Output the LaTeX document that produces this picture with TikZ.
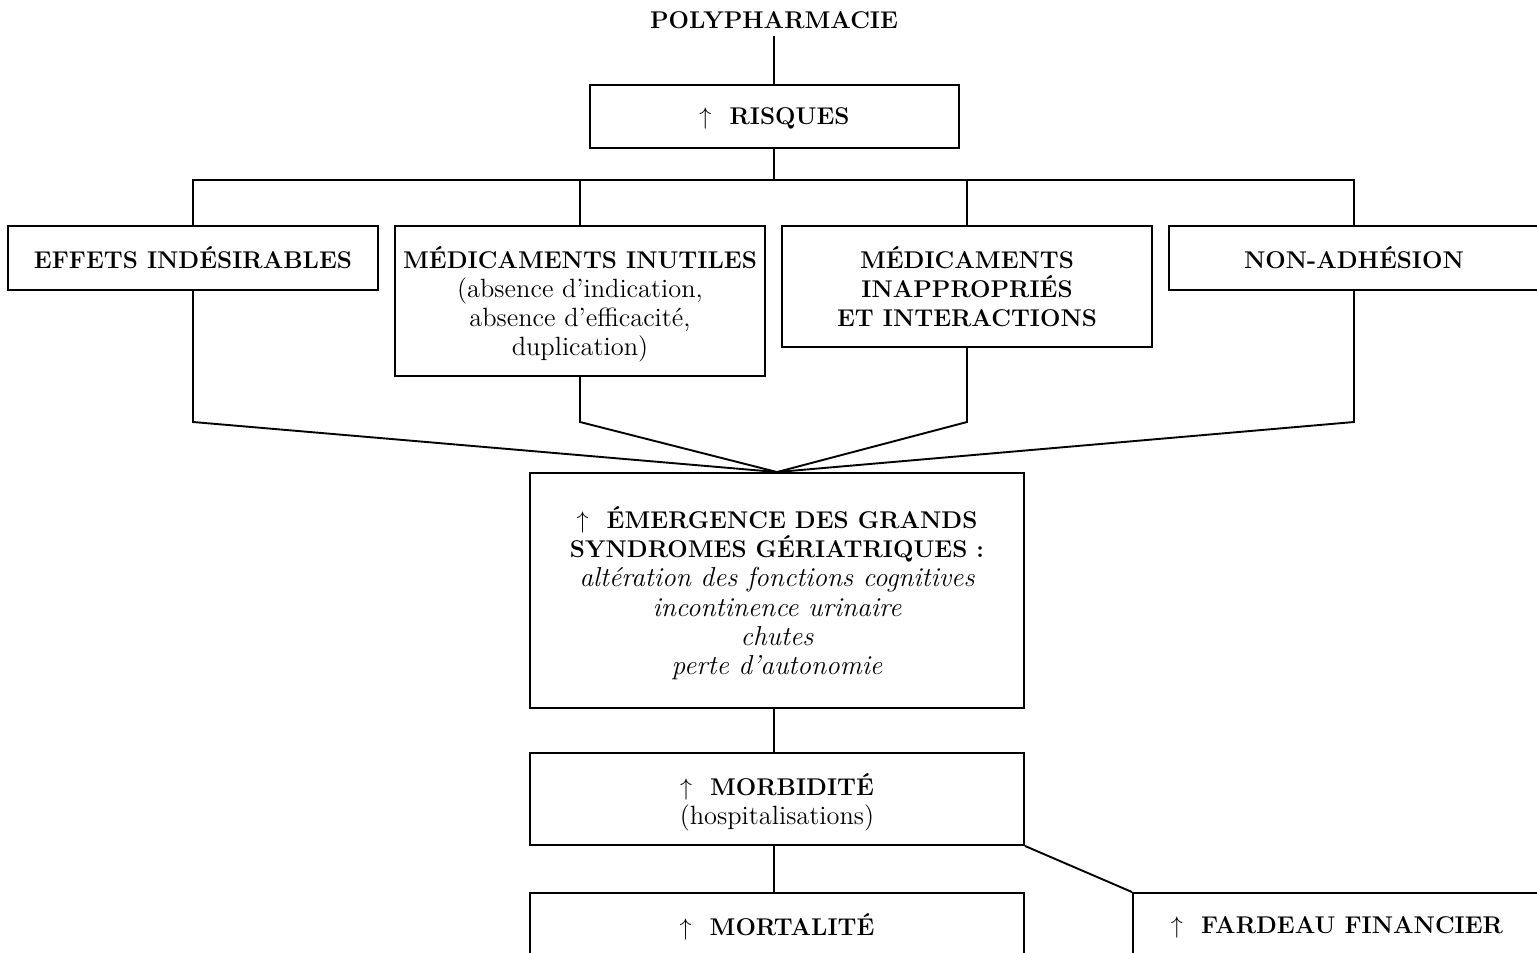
\documentclass[tikz,border=0pt]{standalone}
\usepackage{fontspec}
\begin{document}
\begin{tikzpicture}[x=0.5pt,y=-0.5pt,
  line width=0.95pt,
  box/.style={draw, line width=0.95pt, align=center, inner sep=0pt, text depth=0pt, font=\fontsize{12.1}{14.6}\selectfont\bfseries}]
\useasboundingbox (0,0) rectangle (1537,953);
\newcommand{\myup}{$\uparrow$\ \ }
\newcommand{\myrg}{\fontsize{13.2}{14.6}\selectfont\mdseries}
\newcommand{\myit}{\fontsize{13.7}{14.6}\selectfont\mdseries\itshape}
\node[font=\fontsize{12.1}{14.6}\selectfont\bfseries] (poly) at (774,20) {POLYPHARMACIE};
\node[box, minimum width=184.5pt, minimum height=31.5pt] (risq) at (774.5,116.5) {\myup RISQUES};
\node[box, minimum width=185pt, minimum height=32pt] (eff) at (193,258) {EFFETS INDÉSIRABLES};
\node[box, minimum width=185pt, minimum height=75pt] (inut) at (580,301) {MÉDICAMENTS INUTILES\\ {\myrg(absence d’indication,}\\ {\myrg absence d’efficacité,}\\ {\myrg duplication)}};
\node[box, minimum width=185pt, minimum height=60.5pt] (inap) at (967,286.5) {MÉDICAMENTS\\ INAPPROPRIÉS\\ ET INTERACTIONS};
\node[box, minimum width=185pt, minimum height=32pt] (nonadh) at (1354,258) {NON-ADHÉSION};
\node[box, minimum width=247pt, minimum height=117.5pt] (emerg) at (777,590.5) {\myup ÉMERGENCE DES GRANDS\\ SYNDROMES GÉRIATRIQUES :\\ {\myit altération des fonctions cognitives}\\ {\myit incontinence urinaire}\\ {\myit chutes}\\ {\myit perte d’autonomie}};
\node[box, minimum width=247pt, minimum height=46pt] (morb) at (777,799) {\myup MORBIDITÉ\\ {\myrg(hospitalisations)}};
\node[box, minimum width=247pt, minimum height=32pt] (mort) at (777,925) {\myup MORTALITÉ};
\node[box, minimum width=204pt, minimum height=32pt] (fard) at (1337,925) {\myup FARDEAU FINANCIER};
\coordinate (bus) at (0,180);
\coordinate (kink) at (0,422);
\coordinate (axis) at (774,0);
\draw (poly.south -| axis) -- (risq.north -| axis);
\draw (risq.south -| axis) -- (bus -| axis);
\draw (eff.north) -- (eff.north |- bus) -- (nonadh.north |- bus) -- (nonadh.north);
\draw (inut.north) -- (inut.north |- bus);
\draw (inap.north) -- (inap.north |- bus);
\draw (eff.south) -- (eff.south |- kink) -- (emerg.north);
\draw (inut.south) -- (inut.south |- kink) -- (emerg.north);
\draw (inap.south) -- (inap.south |- kink) -- (emerg.north);
\draw (nonadh.south) -- (nonadh.south |- kink) -- (emerg.north);
\draw (emerg.south -| axis) -- (morb.north -| axis);
\draw (morb.south -| axis) -- (mort.north -| axis);
\draw (morb.south east) -- (fard.north west);
\end{tikzpicture}
\end{document}
